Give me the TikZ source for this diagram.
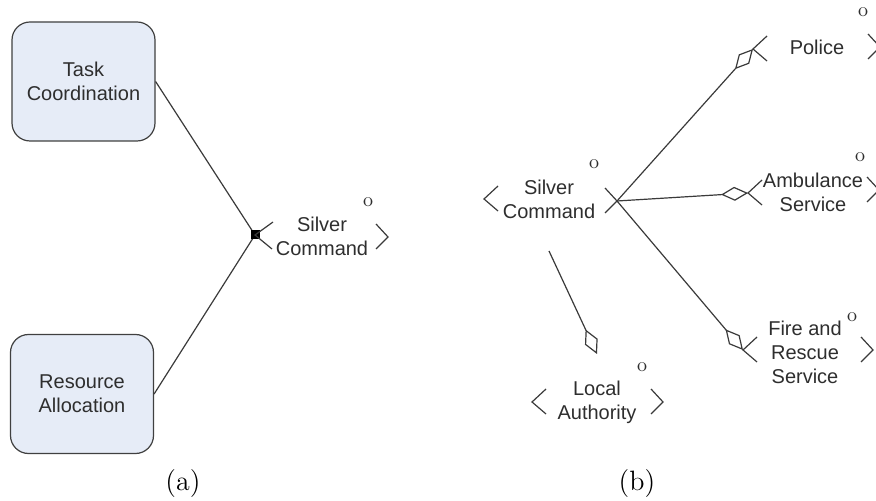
\documentclass[tikz,border=0pt]{standalone}
\usepackage{fontspec}
\setsansfont{Liberation Sans}
\usetikzlibrary{arrows.meta}
\definecolor{linec}{HTML}{3A3A3A}
\definecolor{boxline}{HTML}{404040}
\definecolor{boxfill}{HTML}{E6ECF7}
\definecolor{txt}{HTML}{2E2E2E}
\begin{document}
\begin{tikzpicture}[x=0.5pt,y=-0.5pt,
  ln/.style={draw=linec, line width=0.6pt},
  box/.style={draw=boxline, fill=boxfill, rounded corners=9pt, minimum width=71.5pt, minimum height=59.5pt, line width=0.6pt, align=center, font=\sffamily\fontsize{10}{12}\selectfont, text=txt},
  lbl/.style={align=center, font=\sffamily\fontsize{10}{12}\selectfont, text=txt, inner sep=0pt},
  omark/.style={font=\fontsize{10}{11}\selectfont, text=txt, inner sep=0pt},
  captext/.style={font=\fontsize{14}{16}\selectfont, inner sep=0pt},
  dia/.style={ln, -{Diamond[open, length=13.5pt, width=7pt, line width=0.6pt]}},
  lbr/.pic={\draw[ln] (14,-13) -- (0,0) -- (14,12);},
  rbr/.pic={\draw[ln] (-12,-13) -- (0,0) -- (-12,12);},
]
\useasboundingbox (0,0) rectangle (876,501);

% ---------- panel (a)
\node[box] (tc) at (83.5,81.5) {Task\\Coordination};
\node[box] (ra) at (82,394) {Resource\\Allocation};
\coordinate (jn) at (255,235);
\draw[ln] (tc.east) -- (jn);
\draw[ln] (ra.east) -- (jn);
\node[fill=black, minimum size=4.5pt, inner sep=0pt] (sq) at (jn) {};
\node[lbl] (sca) at (322,236) {Silver\\Command};
\draw[ln] (273,222) -- (jn) -- (272,249);
\pic at (388,237) {rbr};
\node[omark] (oa) at (368,202) {o};
\node[captext] (capa) at (183,484) {(a)};

% ---------- panel (b)
\coordinate (hub) at (617,201);
\node[lbl] (scb) at (549,199) {Silver\\Command};
\pic at (484,199) {lbr};
\pic at (hub) {rbr};
\node[omark] (ob) at (594,164) {o};

% Police
\coordinate (pt) at (753,49);
\draw[dia] (hub) -- (pt);
\pic at (pt) {lbr};
\node[lbl] (pol) at (817,47) {Police};
\node[omark] (op) at (863,12) {o};
\pic at (880,47) {rbr};

% Ambulance
\coordinate (at) at (748,193);
\draw[dia] (hub) -- (at);
\pic at (at) {lbr};
\node[lbl] (amb) at (813,192) {Ambulance\\Service};
\node[omark] (oam) at (860,157) {o};
\pic at (879,190) {rbr};

% Fire and Rescue
\coordinate (ft) at (743,350);
\draw[dia] (hub) -- (ft);
\pic at (ft) {lbr};
\node[lbl] (fire) at (805,352) {Fire and\\Rescue\\Service};
\node[omark] (of) at (852,317) {o};
\pic at (873,350) {rbr};

% Local Authority
\coordinate (ls) at (549,251);
\coordinate (lt) at (597,354);
\draw[dia] (ls) -- (lt);
\node[lbl] (loc) at (597,402) {Local\\Authority};
\pic at (532,402) {lbr};
\pic at (663,402) {rbr};
\node[omark] (ol) at (642,367) {o};

\node[captext] (capb) at (637,484) {(b)};
\end{tikzpicture}
\end{document}
